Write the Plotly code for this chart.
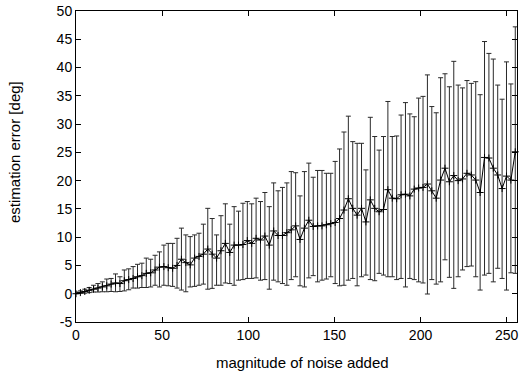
import plotly.graph_objects as go

noise = [0, 2.55, 5.1, 7.65, 10.2, 12.75, 15.3, 17.85, 20.4, 22.95,
         25.5, 28.05, 30.6, 33.15, 35.7, 38.25, 40.8, 43.35, 45.9, 48.45,
         51, 53.55, 56.1, 58.65, 61.2, 63.75, 66.3, 68.85, 71.4, 73.95,
         76.5, 79.05, 81.6, 84.15, 86.7, 89.25, 91.8, 94.35, 96.9, 99.45,
         102, 104.55, 107.1, 109.65, 112.2, 114.75, 117.3, 119.85, 122.4, 124.95,
         127.5, 130.05, 132.6, 135.15, 137.7, 140.25, 142.8, 145.35, 147.9, 150.45,
         153, 155.55, 158.1, 160.65, 163.2, 165.75, 168.3, 170.85, 173.4, 175.95,
         178.5, 181.05, 183.6, 186.15, 188.7, 191.25, 193.8, 196.35, 198.9, 201.45,
         204, 206.55, 209.1, 211.65, 214.2, 216.75, 219.3, 221.85, 224.4, 226.95,
         229.5, 232.05, 234.6, 237.15, 239.7, 242.25, 244.8, 247.35, 249.9, 252.45,
         255]

mean_err = [0, 0.2, 0.4, 0.6, 0.8, 1.0, 1.2, 1.4, 1.7, 1.9,
            1.8, 2.3, 2.5, 2.7, 3.0, 3.2, 3.6, 3.7, 4.2, 4.7,
            4.8, 4.6, 4.5, 5.0, 6.1, 5.5, 5.1, 6.3, 6.6, 7.0,
            7.9, 7.0, 6.3, 7.6, 8.9, 7.3, 8.6, 8.6, 8.7, 9.4,
            8.9, 9.8, 9.5, 10.2, 8.6, 11.1, 10.3, 10.3, 10.8, 11.3,
            12.0, 9.6, 11.6, 13.0, 11.9, 12.0, 12.0, 12.2, 12.4, 12.6,
            13.3, 14.8, 16.8, 15.1, 13.9, 15.1, 12.7, 16.6, 15.1, 14.5,
            14.9, 18.4, 16.9, 16.8, 17.5, 17.6, 17.3, 18.5, 18.7, 18.8,
            19.4, 18.2, 16.9, 20.1, 22.2, 19.8, 20.9, 20.0, 20.3, 21.3,
            21.0, 20.1, 17.9, 24.1, 24.0, 22.2, 21.0, 18.6, 20.8, 20.1,
            25.1]

upper_err = [0.3, 0.5, 0.8, 1.1, 1.5, 1.8, 2.1, 2.6, 2.7, 3.5,
             3.0, 4.2, 4.4, 4.8, 5.2, 5.4, 6.3, 6.1, 6.8, 7.4,
             8.6, 8.9, 8.9, 9.8, 11.6, 10.4, 10.1, 10.4, 10.7, 12.3,
             15.1, 13.3, 10.4, 13.8, 15.9, 12.3, 15.4, 14.6, 16.0, 16.3,
             15.9, 16.9, 16.3, 17.9, 15.4, 19.6, 18.2, 18.8, 19.6, 21.6,
             21.4, 17.3, 21.6, 23.1, 20.6, 21.8, 21.8, 21.3, 21.3, 23.4,
             25.6, 28.6, 31.4, 26.9, 26.6, 26.6, 21.9, 31.2, 27.8, 25.4,
             27.8, 34.0, 27.8, 27.9, 31.6, 33.8, 31.8, 31.3, 34.6, 34.9,
             38.7, 33.1, 32.0, 38.2, 38.9, 36.6, 41.1, 36.9, 36.4, 37.7,
             37.2, 37.5, 35.2, 44.6, 42.5, 41.5, 36.9, 34.4, 41.0, 37.1,
             47.2]

lower_err = [0, 0.05, 0.1, 0.2, 0.3, 0.3, 0.35, 0.35, 0.4, 0.35,
             0.4, 0.5, 0.7, 1.0, 1.0, 1.1, 1.1, 1.2, 1.5, 1.2,
             1.5, 1.4, 1.3, 1.0, 0.65, 0.35, 1.2, 1.3, 1.5, 1.7,
             0.8, 0.95, 1.5, 1.5, 1.9, 1.8, 1.5, 2.4, 2.5, 2.7,
             2.7, 2.8, 2.4, 2.5, 0.8, 2.4, 2.1, 1.8, 1.5, 2.5,
             3.0, 1.4, 1.2, 2.8, 3.2, 2.1, 2.4, 2.6, 3.0, 1.8,
             1.4, 1.5, 2.4, 2.7, 1.4, 3.0, 3.3, 2.5, 2.3, 3.6,
             3.3, 3.0, 3.0, 2.5, 2.7, 1.2, 2.7, 2.5, 2.1, 1.9,
             -0.05, 2.5, 1.7, 2.1, 6.0, 2.9, 0.95, 3.0, 4.2, 4.8,
             4.9, 3.0, 0.65, 3.3, 3.6, 2.1, 4.5, 2.7, 0.65, 3.7,
             3.6]

x_ticks = [0, 50, 100, 150, 200, 250]
y_ticks = [-5, 0, 5, 10, 15, 20, 25, 30, 35, 40, 45, 50]
y_tick_labels = ["-5", "0", "5", "10", "15", "20", "25", "30", "35", "40", "45", "50"]

plus = [u - m for u, m in zip(upper_err, mean_err)]
minus = [m - l for m, l in zip(mean_err, lower_err)]

fig = go.Figure()
fig.add_trace(go.Scatter(
    x=noise, y=mean_err, mode="lines+markers",
    line=dict(color="black", width=1),
    marker=dict(symbol="cross-thin", size=5, line=dict(color="black", width=1)),
    error_y=dict(type="data", symmetric=False, array=plus, arrayminus=minus,
                 color="#2a2a2a", thickness=1, width=2.5),
    showlegend=False, cliponaxis=False,
))

axis_common = dict(
    showline=True, linecolor="black", linewidth=1, mirror="allticks",
    ticks="inside", ticklen=5, tickcolor="black", showgrid=False, zeroline=False,
    automargin=False,
)
fig.update_layout(
    width=528, height=376,
    margin=dict(l=76, r=11, t=11, b=54),
    paper_bgcolor="white", plot_bgcolor="white",
    font=dict(family="Liberation Sans, Arial, sans-serif", size=14, color="black"),
    xaxis=dict(range=[0, 256], tickvals=x_ticks, **axis_common),
    yaxis=dict(range=[-5, 50], tickvals=y_ticks, ticktext=y_tick_labels, **axis_common),
    annotations=[
        dict(text="magnitude of noise added", xref="paper", yref="paper",
             x=0.5147, y=-0.1318, xanchor="center", yanchor="middle",
             showarrow=False, font=dict(size=15)),
        dict(text="estimation error [deg]", xref="paper", yref="paper",
             x=-0.1406, y=0.5466, xanchor="center", yanchor="middle",
             textangle=-90, showarrow=False, font=dict(size=15)),
    ],
)
fig.write_html(
    "out.html",
    config={"displayModeBar": False, "staticPlot": True},
    post_script="document.body.style.margin='0';document.body.style.overflow='hidden';",
)
